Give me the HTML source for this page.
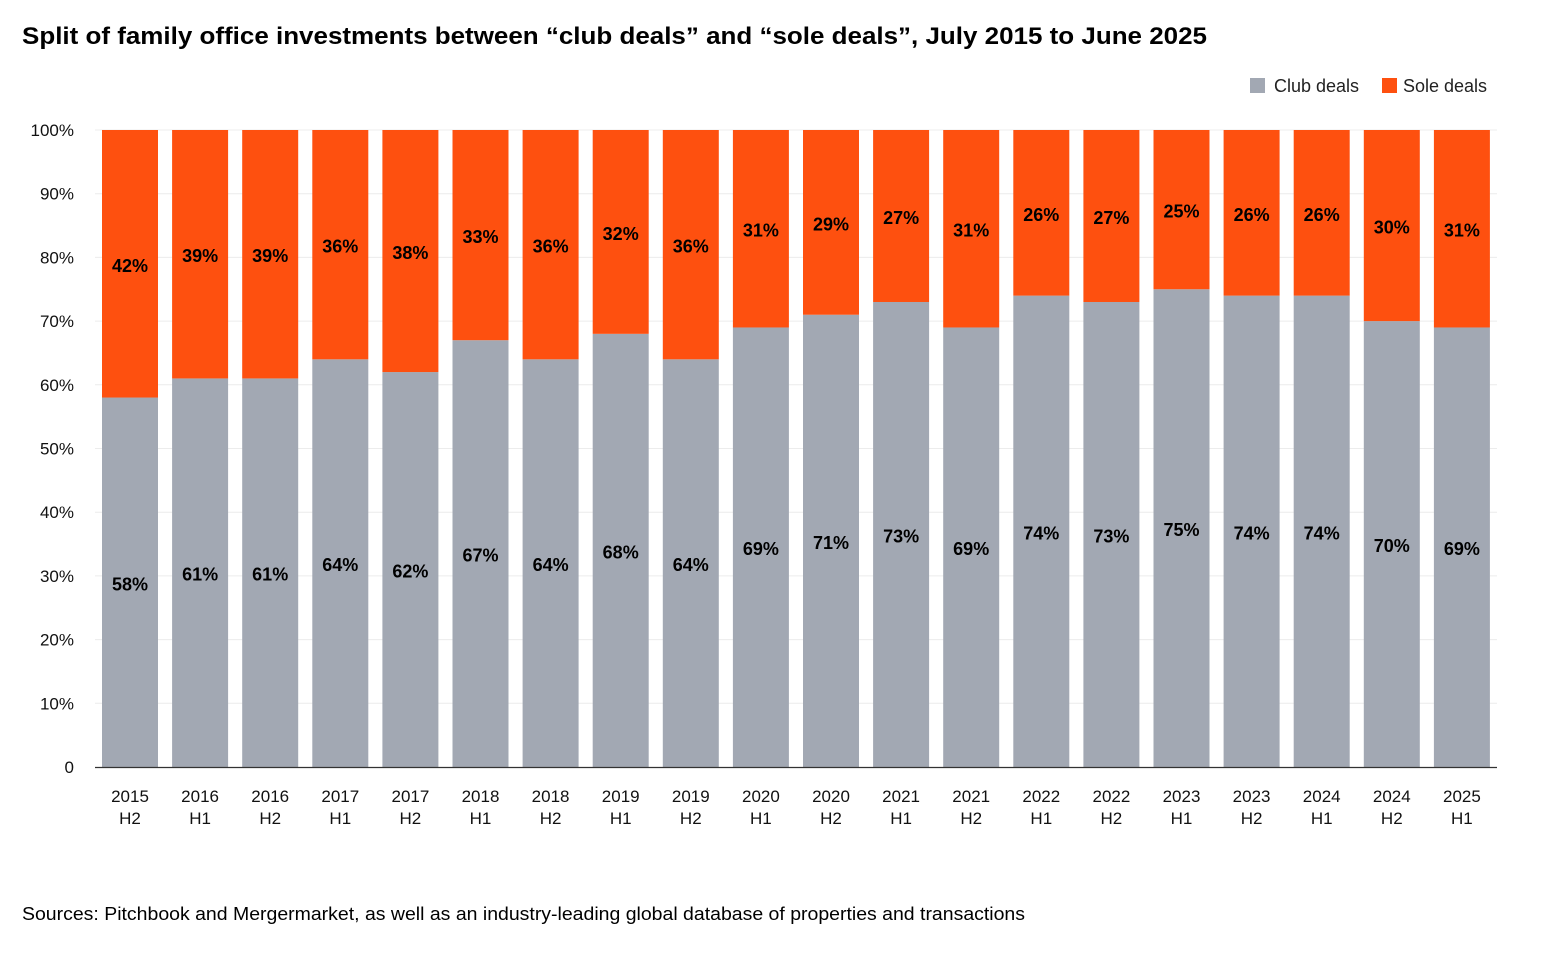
<!DOCTYPE html>
<html><head><meta charset="utf-8"><style>
body{margin:0;background:#fff;font-family:"Liberation Sans",Arial,sans-serif;}
svg text{font-family:"Liberation Sans",Arial,sans-serif;}
</style></head><body>
<svg id="chart" width="1542" height="958" xmlns="http://www.w3.org/2000/svg">
<text x="22" y="44" font-size="24" font-weight="bold" fill="#000" textLength="1185" lengthAdjust="spacingAndGlyphs">Split of family office investments between “club deals” and “sole deals”, July 2015 to June 2025</text>
<g>
<rect x="1250" y="78" width="15" height="15" fill="#a2a8b3"/>
<text x="1274" y="92" font-size="18" fill="#222">Club deals</text>
<rect x="1382" y="78" width="15" height="15" fill="#fe500f"/>
<text x="1403" y="92" font-size="18" fill="#222">Sole deals</text>
</g>
<g id="grid"></g><g id="bars"></g><g id="axes"></g>
<text x="22" y="920" font-size="18" fill="#000" textLength="1003" lengthAdjust="spacingAndGlyphs">Sources: Pitchbook and Mergermarket, as well as an industry-leading global database of properties and transactions</text>
</svg>
<script>
const years=["2015","2016","2016","2017","2017","2018","2018","2019","2019","2020","2020","2021","2021","2022","2022","2023","2023","2024","2024","2025"];
const halves=["H2","H1","H2","H1","H2","H1","H2","H1","H2","H1","H2","H1","H2","H1","H2","H1","H2","H1","H2","H1"];
const club=[58,61,61,64,62,67,64,68,64,69,71,73,69,74,73,75,74,74,70,69];
const sole=[42,39,39,36,38,33,36,32,36,31,29,27,31,26,27,25,26,26,30,31];
const yTicks=[0,10,20,30,40,50,60,70,80,90,100];
const NS="http://www.w3.org/2000/svg";
const y0=767,y1=130,x0=102,pitch=70.1,bw=56;
const y=v=>y0-(y0-y1)*v/100;
const x=i=>x0+i*pitch;
function mk(tag,attrs,parent,txt){const e=document.createElementNS(NS,tag);for(const k in attrs)e.setAttribute(k,attrs[k]);if(txt!==undefined)e.textContent=txt;parent.appendChild(e);return e;}
const grid=document.getElementById('grid'),bars=document.getElementById('bars'),axes=document.getElementById('axes');
yTicks.forEach(t=>{
 if(t>0){const l=mk('line',{x1:95,x2:1497,y1:y(t),y2:y(t),stroke:'#ececec','stroke-width':1},grid);
 
 }
 const tx=mk('text',{x:74,y:y(t)+6,'font-size':17,'text-anchor':'end',fill:'#111'},axes,t===0?'0':t+'%');
 
 
});
club.forEach((c,i)=>{
 const s=sole[i];
 const r1=mk('rect',{x:x(i),y:y(c),width:bw,height:y(0)-y(c),fill:'#a2a8b3'},bars);
 
 
 const r2=mk('rect',{x:x(i),y:y(c+s),width:bw,height:y(c)-y(c+s),fill:'#fe500f'},bars);
 
 
 const cx=x(i)+bw/2;
 const l1=mk('text',{x:cx,y:(y(0)+y(c))/2+8,'font-size':18,'font-weight':'bold','text-anchor':'middle',fill:'#000'},bars,c+'%');
 
 
 const l2=mk('text',{x:cx,y:(y(c)+y(c+s))/2+8,'font-size':18,'font-weight':'bold','text-anchor':'middle',fill:'#000'},bars,s+'%');
 
 
 const a=mk('text',{x:cx,y:802,'font-size':17,'text-anchor':'middle',fill:'#111'},axes,years[i]);
 
 
 const b=mk('text',{x:cx,y:824,'font-size':17,'text-anchor':'middle',fill:'#111'},axes,halves[i]);
 
 
});
const ax=mk('line',{x1:95,x2:1497,y1:y0+0.5,y2:y0+0.5,stroke:'#333','stroke-width':1.2},axes);


</script>
</body></html>
